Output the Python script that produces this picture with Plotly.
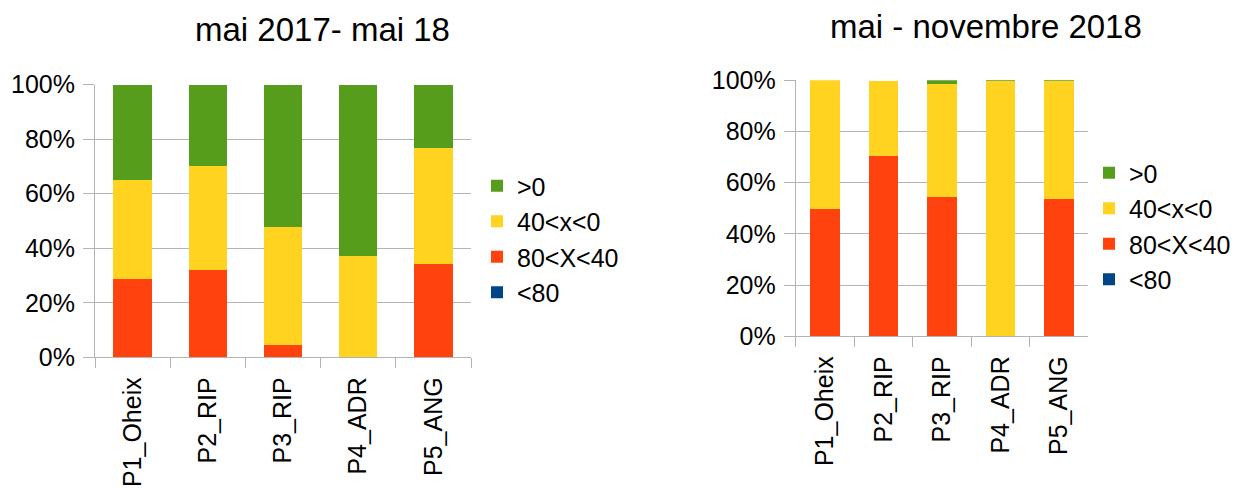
import plotly.graph_objects as go

# === Daten ===
sites = ["P1_Oheix", "P2_RIP", "P3_RIP", "P4_ADR", "P5_ANG"]
series = ["<80", "80<X<40", "40<x<0", ">0"]
colors = ["#004586", "#FF420E", "#FFD320", "#579D1C"]

# mai 2017 - mai 18 (fractions)
left_lt80 = [0, 0, 0, 0, 0]
left_80_40 = [0.287, 0.320, 0.045, 0.0, 0.342]
left_40_0 = [0.363, 0.382, 0.433, 0.371, 0.426]
left_gt0 = [0.350, 0.298, 0.522, 0.629, 0.232]

# mai - novembre 2018
right_lt80 = [0, 0, 0, 0, 0]
right_80_40 = [0.497, 0.704, 0.544, 0.0, 0.536]
right_40_0 = [0.503, 0.293, 0.442, 0.997, 0.461]
right_gt0 = [0.0, 0.0, 0.014, 0.003, 0.003]

left_values = [left_lt80, left_80_40, left_40_0, left_gt0]
right_values = [right_lt80, right_80_40, right_40_0, right_gt0]

FONT = "Liberation Sans, Arial, sans-serif"
# page body has an 8px margin -> figure is 8px smaller, positions shifted by 8
OFF = 8
W, H = 1240 - OFF, 490 - OFF


def px(x):
    return (x - OFF) / W


def py(y):
    return 1 - (y - OFF) / H


fig = go.Figure()

for name, col, vals in zip(series, colors, left_values):
    fig.add_trace(go.Bar(x=sites, y=vals, name=name, marker_color=col,
                         marker_line_width=0, xaxis="x", yaxis="y", legend="legend"))
for name, col, vals in zip(series, colors, right_values):
    fig.add_trace(go.Bar(x=sites, y=vals, name=name, marker_color=col,
                         marker_line_width=0, xaxis="x2", yaxis="y2", legend="legend2"))

yax = dict(range=[0, 1], tickformat=".0%", dtick=0.2, showgrid=True, gridcolor="#b3b3b3",
           gridwidth=1, ticks="outside", ticklen=11, tickcolor="#b3b3b3",
           showline=True, linecolor="#b3b3b3", zeroline=False, automargin=False,
           ticklabelstandoff=3,
           tickfont=dict(size=25, color="#000000", family=FONT), fixedrange=True)
xax = dict(type="category", tickson="boundaries", ticks="outside", ticklen=10,
           tickcolor="#b3b3b3", showline=True, linecolor="#b3b3b3", showgrid=False,
           tickangle=-90, tickfont=dict(size=25, color="#000000", family=FONT),
           ticklabelstandoff=9, automargin=False)

legend_style = dict(xanchor="left", yanchor="top", traceorder="reversed",
                    font=dict(size=25, family=FONT, color="#000000"),
                    bgcolor="rgba(0,0,0,0)", itemwidth=30)

fig.update_layout(
    width=W, height=H,
    margin=dict(l=0, r=0, t=0, b=0),
    paper_bgcolor="white", plot_bgcolor="white",
    barmode="stack", bargap=0.49,
    font=dict(family=FONT, color="#000000"),
    xaxis=dict(xax, domain=[px(95), px(471)], anchor="y"),
    yaxis=dict(yax, domain=[py(357.3), py(84.7)], anchor="x"),
    xaxis2=dict(xax, domain=[px(795.7), px(1088.3)], anchor="y2"),
    yaxis2=dict(yax, domain=[py(336.3), py(80.3)], anchor="x2"),
    legend=dict(legend_style, x=px(477), y=py(163)),
    legend2=dict(legend_style, x=px(1089), y=py(150)),
    annotations=[
        dict(text="mai 2017- mai 18", x=px(322.5), y=py(30), xref="paper", yref="paper",
             showarrow=False, xanchor="center", yanchor="middle",
             font=dict(size=33, family=FONT, color="#000000")),
        dict(text="mai - novembre 2018", x=px(985.5), y=py(27), xref="paper", yref="paper",
             showarrow=False, xanchor="center", yanchor="middle",
             font=dict(size=33, family=FONT, color="#000000")),
    ],
)

fig.write_html("out.html")
